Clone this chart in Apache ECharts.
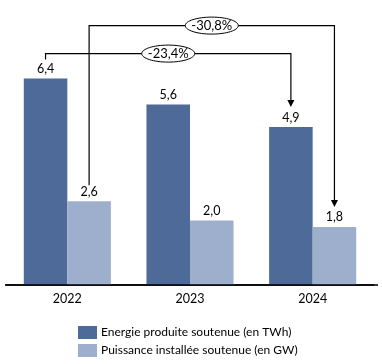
<!DOCTYPE html>
<html><head><meta charset="utf-8">
<script src="https://cdn.jsdelivr.net/npm/echarts@6/dist/echarts.min.js"></script>
<style>html,body{margin:0;padding:0;background:#fff}#c{width:382px;height:364px}</style>
</head><body><div id="c"></div>
<script>
const categories = ['2022', '2023', '2024'];
const energy = [6.4, 5.6, 4.9];
const power = [2.6, 2.0, 1.8];
const seriesNames = ['Energie produite soutenue (en TWh)', 'Puissance installée soutenue (en GW)'];
const changeLabels = ['-23,4%', '-30,8%'];

const FONT = 'Lato';
const chart = echarts.init(document.getElementById('c'));
const catGap = 0.29;
const lbl = {
  show: true, position: 'top', distance: 3, color: '#000', fontSize: 12.5, fontFamily: FONT,
  formatter: p => p.value.toFixed(1).replace('.', ',')
};
chart.setOption({
  animation: false,
  grid: { left: 6, right: 8, top: 27, bottom: 79 },
  legend: {
    orient: 'vertical', left: 73, top: 321, itemWidth: 19, itemHeight: 13, itemGap: 5,
    icon: 'rect',
    textStyle: { color: '#000', fontSize: 12, fontFamily: FONT, padding: [0, 0, 0, -1] },
    data: seriesNames
  },
  xAxis: {
    type: 'category', data: categories,
    axisLine: { lineStyle: { color: '#000', width: 1.5 } },
    axisTick: { show: false },
    axisLabel: { color: '#000', fontSize: 12.5, fontFamily: FONT, margin: 7 }
  },
  yAxis: { type: 'value', min: 0, max: 8, show: false, splitLine: { show: false } },
  series: [
    { name: seriesNames[0], type: 'bar', data: energy, barGap: '0%', barCategoryGap: (catGap * 100) + '%',
      itemStyle: { color: '#4d6a98' }, label: lbl },
    { name: seriesNames[1], type: 'bar', data: power, barGap: '0%', barCategoryGap: (catGap * 100) + '%',
      itemStyle: { color: '#9eafcd' }, label: lbl }
  ]
});

function barPos(seriesIdx, i, val) {
  const c = chart.convertToPixel({ gridIndex: 0 }, [i, val]);
  const c1 = chart.convertToPixel({ gridIndex: 0 }, [1, val]);
  const c0 = chart.convertToPixel({ gridIndex: 0 }, [0, val]);
  const band = c1[0] - c0[0];
  const bw = band * (1 - catGap) / 2;
  const x = seriesIdx === 0 ? c[0] - bw / 2 : c[0] + bw / 2;
  return [x, c[1]];
}

function annotation(seriesIdx, data, lineY, leftGap, arrowGap, text) {
  const a = barPos(seriesIdx, 0, data[0]);
  const b = barPos(seriesIdx, 2, data[2]);
  const leftEnd = a[1] - leftGap;
  const tipY = b[1] - arrowGap;
  const mid = (a[0] + b[0]) / 2;
  const st = { stroke: '#000', lineWidth: 1.2, fill: null };
  return [
    { type: 'polyline', shape: { points: [[a[0], leftEnd], [a[0], lineY], [b[0], lineY], [b[0], tipY - 6]] }, style: st, z: 10 },
    { type: 'polygon', shape: { points: [[b[0] - 3.5, tipY - 7], [b[0] + 3.5, tipY - 7], [b[0], tipY]] }, style: { fill: '#000' }, z: 10 },
    { type: 'ellipse', shape: { cx: mid, cy: lineY, rx: 26.5, ry: 8.5 }, style: { fill: '#fff', stroke: '#000', lineWidth: 1 }, z: 11 },
    { type: 'text', x: mid, y: lineY, style: { text: text, fill: '#000', font: '13px ' + FONT, align: 'center', verticalAlign: 'middle' }, z: 12 }
  ];
}

const gridRect = chart.getModel().getComponent('grid').coordinateSystem.getRect();
const topY = barPos(0, 0, energy[0])[1];
const y1 = topY - 25;
const y2 = y1 - 28;
chart.setOption({
  graphic: [
    { type: 'line', shape: { x1: gridRect.x - 1, y1: gridRect.y + gridRect.height, x2: gridRect.x + gridRect.width + 4, y2: gridRect.y + gridRect.height }, style: { stroke: '#000', lineWidth: 1.5 }, z: 5 },
    ...annotation(0, energy, y1, 19, 20, changeLabels[0]),
    ...annotation(1, power, y2, 16, 20, changeLabels[1])
  ]
});
</script></body></html>
